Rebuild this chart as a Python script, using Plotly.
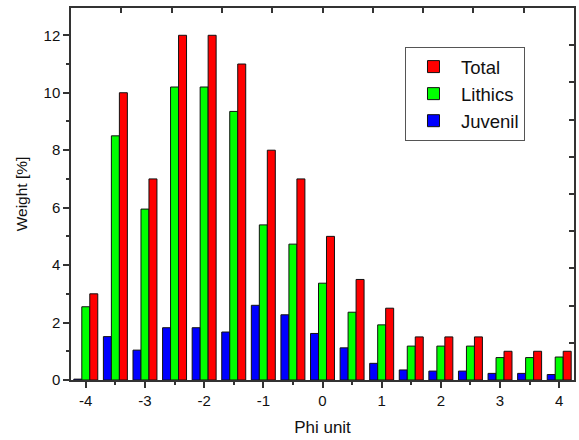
import plotly.graph_objects as go

phi = [-4, -3.5, -3, -2.5, -2, -1.5, -1, -0.5, 0, 0.5, 1, 1.5, 2, 2.5, 3, 3.5, 4]
total = [3, 10, 7, 12, 12, 11, 8, 7, 5, 3.5, 2.5, 1.5, 1.5, 1.5, 1, 1, 1]
lithics = [2.55, 8.5, 5.95, 10.2, 10.2, 9.35, 5.4, 4.73, 3.37, 2.36, 1.92, 1.18, 1.18, 1.18, 0.78, 0.78, 0.8]
juvenil = [0.03, 1.51, 1.04, 1.82, 1.82, 1.67, 2.6, 2.27, 1.62, 1.12, 0.58, 0.35, 0.31, 0.31, 0.23, 0.23, 0.19]

x_ticks = [-4, -3, -2, -1, 0, 1, 2, 3, 4]
y_ticks = [0, 2, 4, 6, 8, 10, 12]

font_family = "Liberation Sans, Arial, sans-serif"
line_col = "#333333"

fig = go.Figure()
for name, vals, col in [("Juvenil", juvenil, "#0000ff"),
                        ("Lithics", lithics, "#00ff00"),
                        ("Total", total, "#ff0000")]:
    fig.add_trace(go.Bar(x=phi, y=vals, name=name,
                         marker=dict(color=col, line=dict(color="#111111", width=1))))

# placeholder trace (no visible marks) so the mirror axes get drawn
fig.add_trace(go.Scatter(x=[None], y=[None], xaxis="x2", yaxis="y2", mode="markers",
                         showlegend=False, hoverinfo="skip"))

fig.update_layout(
    width=579, height=440,
    margin=dict(l=71, r=5, t=8, b=60),
    paper_bgcolor="white", plot_bgcolor="white",
    barmode="group", bargap=0.19, bargroupgap=0,
    font=dict(family=font_family, size=15, color="#111111"),
    showlegend=True,
    legend=dict(x=0.664, y=0.895, xanchor="left", yanchor="top",
                traceorder="reversed", bgcolor="white",
                bordercolor="#555555", borderwidth=1,
                font=dict(size=18.5, family=font_family, color="#111111"),
                itemwidth=45, tracegroupgap=0),
    xaxis=dict(range=[-4.25, 4.25], tickvals=x_ticks, ticktext=[str(v) for v in x_ticks],
               ticks="outside", ticklen=6, tickwidth=1.5, tickcolor=line_col,
               minor=dict(dtick=0.5, tick0=0, ticks="outside", ticklen=3, tickwidth=1.5, tickcolor=line_col),
               showline=True, linecolor=line_col, linewidth=1.5,
               showgrid=False, zeroline=False, automargin=False,
               title=dict(text="Phi unit", font=dict(size=17), standoff=13),
               tickfont=dict(size=15)),
    yaxis=dict(range=[0, 12.95], tickvals=y_ticks, ticktext=[str(v) for v in y_ticks],
               ticks="outside", ticklen=6, tickwidth=1.5, tickcolor=line_col,
               minor=dict(dtick=1, tick0=0, ticks="outside", ticklen=3, tickwidth=1.5, tickcolor=line_col),
               showline=True, linecolor=line_col, linewidth=1.5,
               showgrid=False, zeroline=False, automargin=False,
               title=dict(text="Weight [%]", font=dict(size=15.5), standoff=12),
               tickfont=dict(size=15)),
    xaxis2=dict(overlaying="x", side="top", range=[0, 10], dtick=1, tick0=0,
                ticks="inside", ticklen=5, tickwidth=1.5, tickcolor=line_col,
                showticklabels=False, showline=True, linecolor=line_col, linewidth=1.5,
                showgrid=False, zeroline=False, automargin=False),
    yaxis2=dict(overlaying="y", side="right", range=[0, 10], dtick=1, tick0=0,
                ticks="inside", ticklen=5, tickwidth=1.5, tickcolor=line_col,
                showticklabels=False, showline=True, linecolor=line_col, linewidth=1.5,
                showgrid=False, zeroline=False, automargin=False),
)

fig.write_html("out.html", config={"displayModeBar": False},
               post_script="document.body.style.margin='0';")
